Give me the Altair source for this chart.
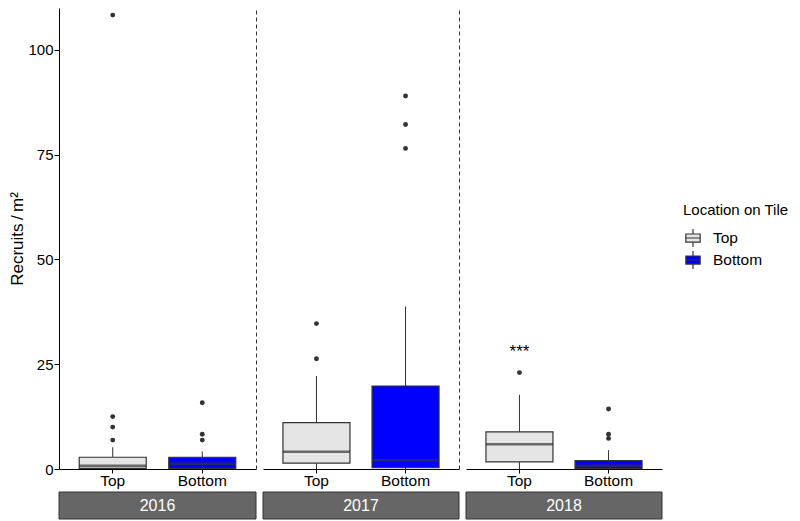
import altair as alt
import pandas as pd

# ---- data ----
years = ["2016", "2017", "2018"]
locations = ["Top", "Bottom"]

box_year = ["2016", "2016", "2017", "2017", "2018", "2018"]
box_loc = ["Top", "Bottom", "Top", "Bottom", "Top", "Bottom"]
whisker_low = [0.0, 0.0, 0.0, 0.0, 0.0, 0.0]
q1 = [0.15, 0.15, 1.4, 0.3, 1.7, 0.1]
median = [0.8, 1.25, 4.1, 2.1, 5.9, 0.8]
q3 = [2.8, 2.8, 11.05, 19.8, 8.85, 2.0]
whisker_high = [5.2, 4.2, 22.2, 38.8, 17.7, 4.5]

out_year = ["2016"] * 7 + ["2017"] * 5 + ["2018"] * 4
out_loc = (["Top"] * 4 + ["Bottom"] * 3 + ["Top"] * 2 + ["Bottom"] * 3
           + ["Top"] + ["Bottom"] * 3)
out_value = [108.3, 12.5, 10.0, 6.9, 15.8, 8.3, 6.9,
             34.7, 26.3, 89.0, 82.2, 76.5,
             23.0, 14.3, 8.3, 7.3]

sig_year = ["2018"]
sig_loc = ["Top"]
sig_value = [28.0]
sig_text = ["***"]

fill_colors = ["#E5E5E5", "#0000FF"]

boxes = pd.DataFrame({"year": box_year, "loc": box_loc, "lo": whisker_low,
                      "q1": q1, "median": median, "q3": q3, "hi": whisker_high})
outs = pd.DataFrame({"year": out_year, "loc": out_loc, "value": out_value})
sigs = pd.DataFrame({"year": sig_year, "loc": sig_loc, "value": sig_value,
                     "label": sig_text})

FONT = "Liberation Sans"
PANEL_W = [197, 196, 196]
PANEL_H = 461
BOX_W = 67

yscale = alt.Scale(domain=[0, 110], nice=False, zero=True)
legend_path = ("M-0.8,-0.45H0.8V0.45H-0.8Z M-0.8,0H0.8 "
               "M0,-0.45V-1 M0,0.45V1")


def panel(i, year):
    b = boxes[boxes.year == year]
    o = outs[outs.year == year]
    s = sigs[sigs.year == year]
    x = alt.X("loc:N", sort=locations,
              scale=alt.Scale(domain=locations, paddingInner=0.2514,
                              paddingOuter=0.2257),
              axis=alt.Axis(title=None, labelAngle=0, labelFontSize=15.5,
                            labelColor="black", tickColor="black",
                            domainColor="black", tickSize=4, labelPadding=0,
                            grid=False))
    if i == 0:
        yaxis = alt.Axis(title="Recruits\u2009/\u2009m²",
                         values=[0, 25, 50, 75, 100],
                         labelFontSize=15, labelColor="black",
                         tickColor="black", domainColor="black", tickSize=5,
                         labelPadding=1, titleFontSize=17,
                         titleFontWeight="normal", titleColor="black",
                         titlePadding=1, grid=False)
    else:
        yaxis = None
    base = alt.Chart(b)
    whisk_hi = base.mark_rule(color="#333333", strokeWidth=1).encode(
        x=x, y=alt.Y("hi:Q", scale=yscale, axis=yaxis), y2="q3:Q")
    whisk_lo = base.mark_rule(color="#333333", strokeWidth=1).encode(
        x=x, y=alt.Y("lo:Q", scale=yscale, axis=yaxis), y2="q1:Q")
    box = base.mark_bar(stroke="#333333", strokeWidth=1.2, size=BOX_W).encode(
        x=x, y=alt.Y("q1:Q", scale=yscale, axis=yaxis), y2="q3:Q",
        fill=alt.Fill("loc:N", sort=locations,
                      scale=alt.Scale(domain=locations, range=fill_colors),
                      legend=alt.Legend(
                          title="Location on Tile", titleFontSize=15,
                          titleFontWeight="normal", titleColor="black",
                          labelFontSize=15.5, labelColor="black",
                          symbolType=legend_path, symbolSize=320,
                          symbolStrokeColor="#333333", symbolStrokeWidth=1.2,
                          rowPadding=-3, titlePadding=10, labelOffset=10,
                          orient="none", legendX=624, legendY=195)
                      if i == 0 else None))
    med = base.mark_tick(color="#333333", thickness=2.5, size=BOX_W).encode(
        x=x, y=alt.Y("median:Q", scale=yscale, axis=yaxis))
    pts = alt.Chart(o).mark_circle(color="#333333", size=24,
                                    opacity=1).encode(
        x=x, y=alt.Y("value:Q", scale=yscale, axis=yaxis))
    layers = [whisk_hi, whisk_lo, box, med, pts]
    if len(s):
        layers.append(alt.Chart(s).mark_text(
            fontSize=17, color="black", baseline="middle").encode(
            x=x, y=alt.Y("value:Q", scale=yscale, axis=yaxis),
            text="label:N"))
    chart = alt.layer(*layers)
    if i < 2:
        dash = alt.Chart(b).mark_point(opacity=0).encode(
            y=alt.Y("q3:Q", scale=yscale,
                    axis=alt.Axis(orient="right", labels=False, ticks=False,
                                  title=None, grid=False, domainDash=[4, 3],
                                  domainColor="#333333", domainWidth=1)))
        chart = alt.layer(chart, dash).resolve_axis(y="independent")
    chart = chart.properties(width=PANEL_W[i], height=PANEL_H)

    strip_df = pd.DataFrame({"year": [year]})
    strip = alt.layer(
        alt.Chart(strip_df).mark_rect(fill="#666666", stroke="#333333",
                                      strokeWidth=1),
        alt.Chart(strip_df).mark_text(color="white", fontSize=16,
                                      baseline="middle").encode(
            text="year:N"),
    ).properties(width=PANEL_W[i], height=27)
    return alt.vconcat(chart, strip, spacing=2)


chart = (alt.hconcat(*[panel(i, y) for i, y in enumerate(years)], spacing=5)
         .properties(padding=0)
         .configure(font=FONT)
         .configure_view(stroke=None))

chart.save("out.html", embed_options={"renderer": "svg", "actions": False})
